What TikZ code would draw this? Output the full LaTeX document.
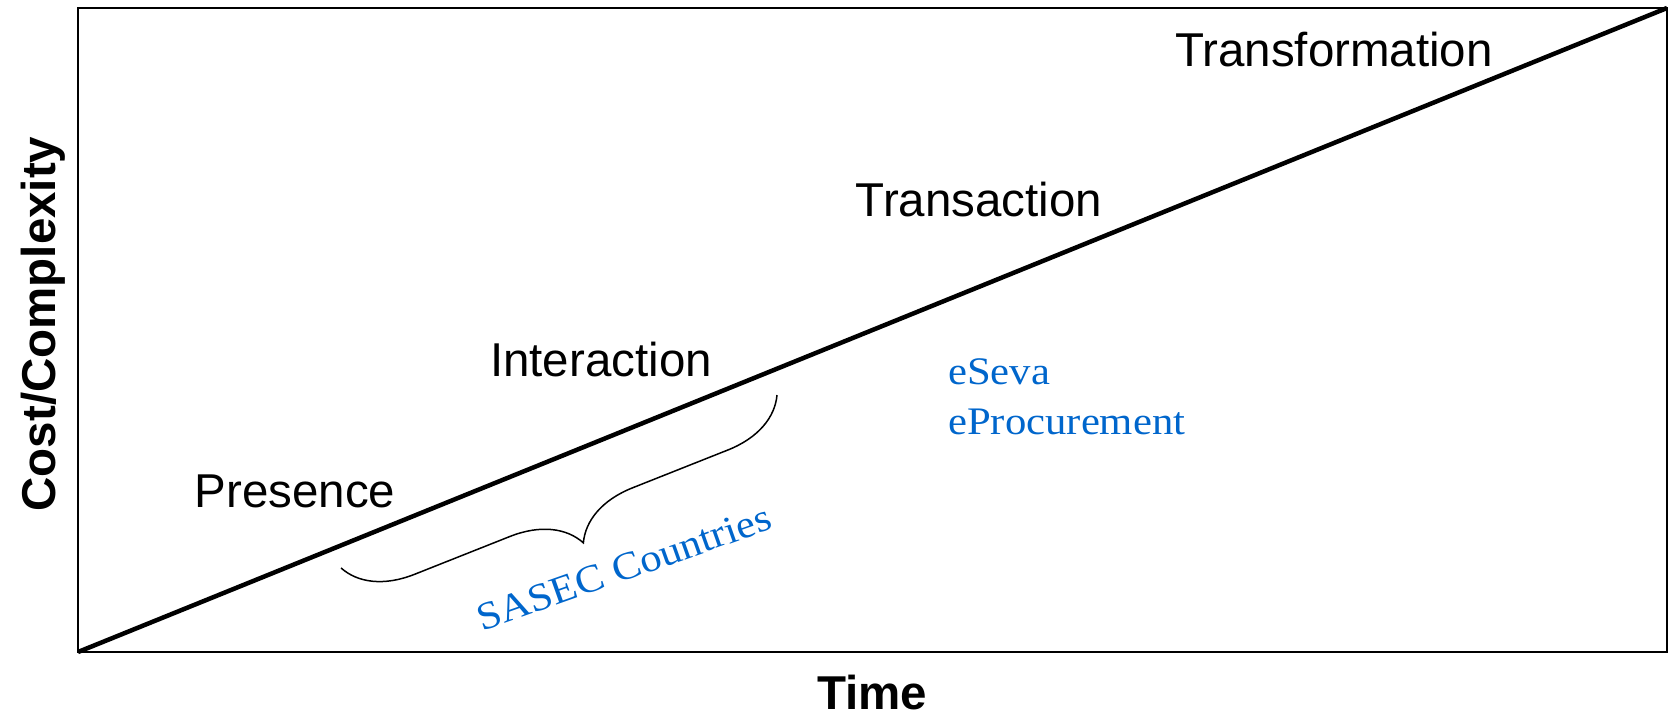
\documentclass[tikz,border=0pt]{standalone}
\usepackage{fontspec}
\usepackage{xcolor}
\usepackage{tikz}
\usetikzlibrary{decorations.pathreplacing}
\setmainfont{Liberation Serif}
\setsansfont{Liberation Sans}
\definecolor{sasecblue}{RGB}{0,102,204}

\tikzset{
  stage/.style={anchor=base, inner sep=0pt, font=\sffamily\fontsize{47.5}{57}\selectfont},
  axislabel/.style={anchor=base, inner sep=0pt, font=\sffamily\bfseries\fontsize{47.5}{57}\selectfont},
  example/.style={anchor=base west, inner sep=0pt, text=sasecblue, font=\rmfamily\fontsize{39}{47}\selectfont},
}

\begin{document}
\begin{tikzpicture}[x=1pt,y=-1pt]
\useasboundingbox (0,0) rectangle (1676,716);
\coordinate (sw) at (78,652);
\coordinate (ne) at (1667,8);

\draw[line width=1.5pt,black] (sw) rectangle (ne);
\draw[line width=4.5pt,black] (sw) -- (ne);

\node[stage] (transformation) at (1334,66) {Transformation};
\node[stage] (transaction) at (979,216) {Transaction};
\node[stage] (interaction) at (601,376) {Interaction};
\node[stage] (presence) at (295,507) {Presence};

\node[axislabel] (time) at (872,709) {Time};
\node[axislabel,rotate=90] (cost) at (55,324) {Cost/Complexity};

\node[example] (eseva) at (948,384) {\scalebox{1.095}[1]{eSeva}};
\node[example] (eproc) at (948,434) {\scalebox{1.095}[1]{eProcurement}};

\coordinate (bL) at (341,568);
\coordinate (bR) at (777,395);
\draw[line width=1.5pt,decorate,decoration={brace,amplitude=66pt}] (bR) -- (bL);
\node[example,anchor=base,rotate=19.5] (sasec) at (628,580) {\scalebox{1.095}[1]{SASEC Countries}};
\end{tikzpicture}
\end{document}
